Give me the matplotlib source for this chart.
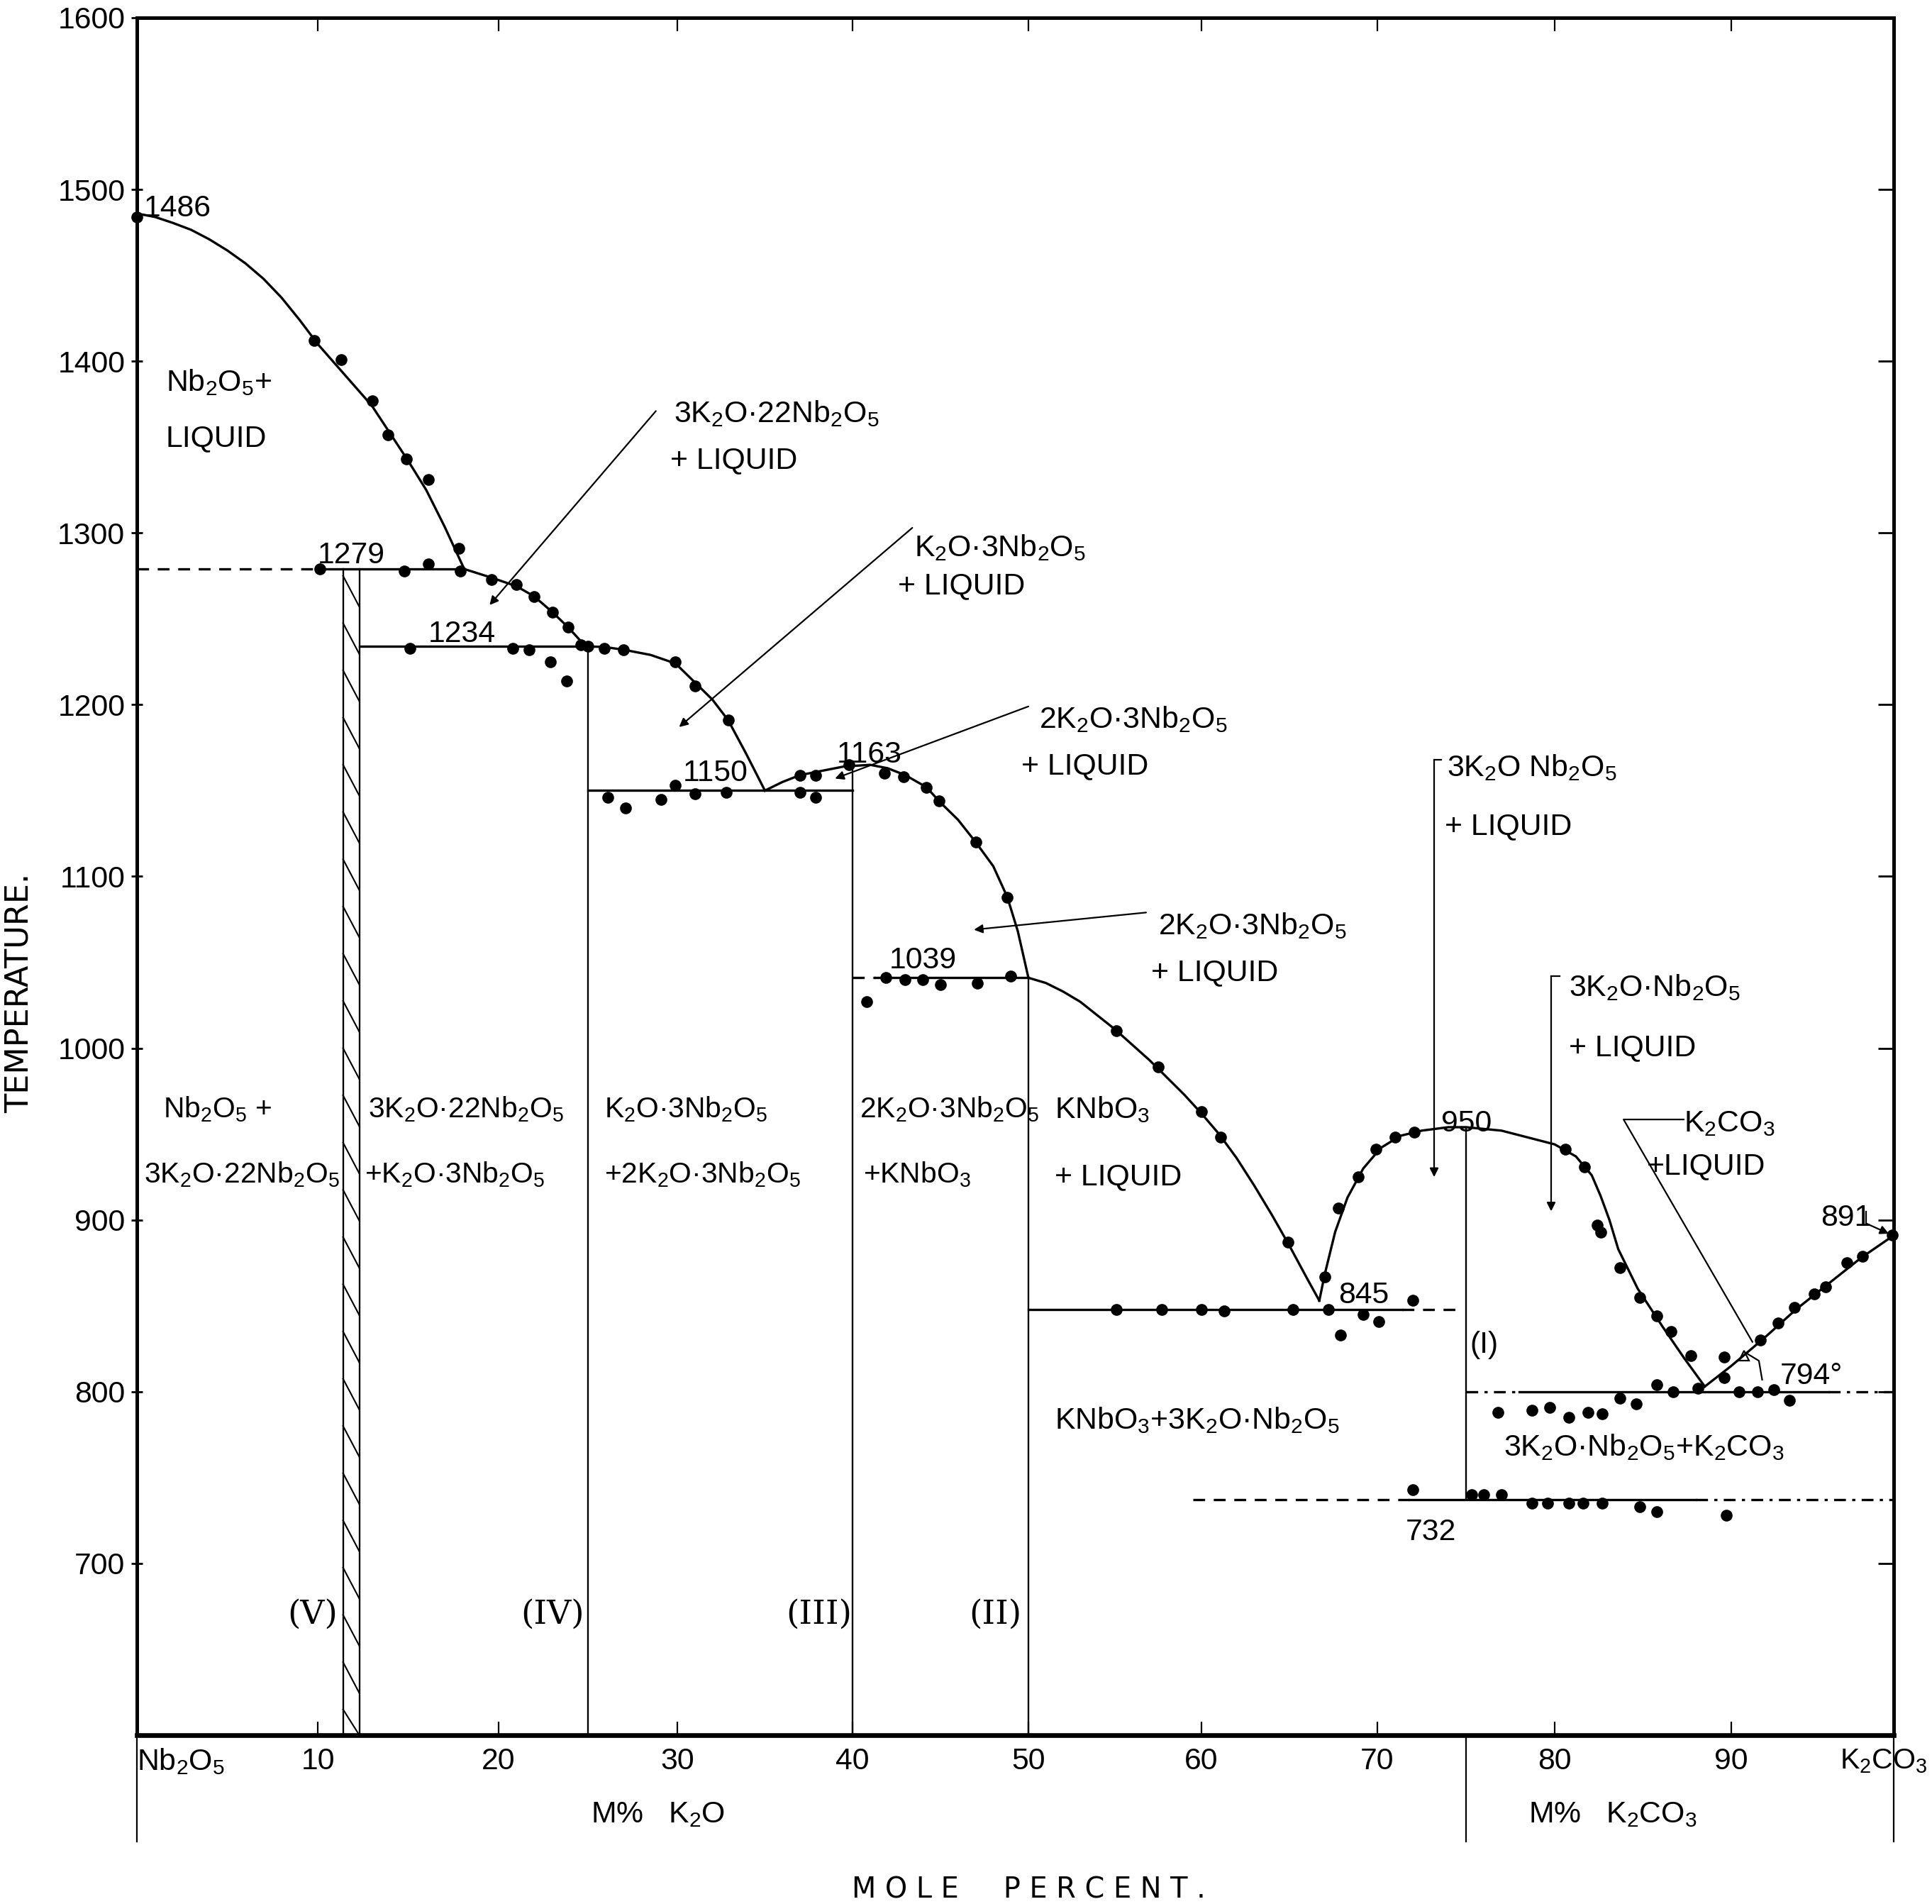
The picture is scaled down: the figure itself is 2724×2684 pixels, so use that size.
import matplotlib
matplotlib.use("Agg")
import numpy as np
import matplotlib.pyplot as plt
import matplotlib.font_manager as fm
from matplotlib.ticker import NullLocator

names = {f.name for f in fm.fontManager.ttflist}
FONT = "Liberation Sans" if "Liberation Sans" in names else "DejaVu Sans"
plt.rcParams["font.family"] = [FONT, "DejaVu Sans"]
plt.rcParams["mathtext.fontset"] = "custom"
plt.rcParams["mathtext.rm"] = FONT
plt.rcParams["mathtext.it"] = FONT
plt.rcParams["mathtext.default"] = "rm"
plt.rcParams["lines.scale_dashes"] = False

# ---------------- data (mole % K2O / K2CO3, temperature degC) ----------------
liq_nb2o5_x = [0, 1, 2, 3, 4, 5, 6, 7, 8, 9, 10, 11, 12, 13, 14, 15, 16, 17, 18.1]
liq_nb2o5_T = [1486, 1484, 1480.5, 1476.5, 1471, 1464.5, 1457, 1448, 1437, 1424, 1410,
               1398, 1386, 1374, 1358, 1342, 1325, 1304, 1279]
liq_3_22_x = [18.1, 19.6, 21.0, 22.0, 23.0, 23.9, 24.6, 25.0]
liq_3_22_T = [1279, 1274, 1269, 1263, 1254, 1245, 1237, 1234]
liq_1_3_x = [25.0, 26.0, 27.0, 28.5, 29.9, 31.0, 32.0, 32.9, 33.9, 35.0]
liq_1_3_T = [1234, 1233.5, 1232, 1229, 1224, 1213, 1203, 1191, 1172, 1150]
liq_2_3_x = [35.0, 36.0, 37.0, 38.0, 39.5, 41.0, 42.0, 43.0, 44.2, 45.0, 46.0, 47.0, 48.0, 48.8, 49.4, 50.0]
liq_2_3_T = [1150, 1155, 1159, 1161, 1164, 1165, 1163, 1159, 1152, 1143, 1133, 1120, 1106, 1088, 1068, 1041]
liq_knbo3_x = [50.0, 51, 52, 53, 54, 55, 56, 57, 58, 59, 60, 61, 62, 63, 64, 65, 66, 66.7]
liq_knbo3_T = [1041, 1038, 1033, 1027, 1019, 1011, 1002, 993, 983, 973, 962, 950, 936, 920, 903, 885, 866, 853]
liq_3_1_x = [66.7, 67.0, 67.6, 68.3, 69.2, 70.2, 71.3, 72.5, 74.0, 75.0, 77.0, 78.5, 80.0,
             81.2, 82.1, 82.6, 83.1, 83.6, 84.7, 86.1, 87.3, 88.5]
liq_3_1_T = [853, 868, 893, 913, 930, 942, 949, 952, 954, 954, 952, 948, 944,
             937, 926, 914, 900, 883, 860, 838, 820, 803]
liq_k2co3_x = [88.5, 90.0, 92.0, 94.0, 96.0, 98.0, 100.0]
liq_k2co3_T = [803, 815, 831, 848, 863, 878, 891]

# invariant (horizontal) lines: temperature, x start, x end, style
inv_T = [1279, 1279, 1234, 1150, 1041, 1041, 848, 848, 800, 800, 800, 737, 737, 737]
inv_x0 = [0, 10.1, 12.3, 25, 40, 41.3, 50, 71.4, 75, 78, 96, 59.5, 71.8, 88]
inv_x1 = [10.1, 18.1, 25, 40, 41.3, 50, 71.4, 74.5, 78, 96, 100, 71.8, 88, 100]
inv_style = ["dash", "solid", "solid", "solid", "dash", "solid", "solid", "dash",
             "dashdot", "solid", "dashdot", "dash", "solid", "dashdot"]

# compound (vertical) lines: x, top temperature, bottom temperature
comp_x = [25, 40, 50, 75]
comp_top = [1234, 1165, 1041, 954]
comp_bot = [600, 600, 600, 737]
band_x0, band_x1, band_top = 11.4, 12.3, 1279

# experimental points
dots_x = [0, 9.8, 11.3, 13.0, 13.9, 14.9, 16.1, 17.8,
          10.1, 14.8, 16.1, 17.9,
          19.6, 21.0, 22.0, 23.0, 23.9, 24.6,
          15.1, 20.8, 21.7, 25.0, 25.9, 27.0, 22.9, 23.8,
          29.9, 31.0, 32.9,
          26.1, 27.1, 29.1, 29.9, 31.0, 32.8, 37.0, 37.9,
          37.0, 37.9, 39.8, 41.8, 42.9, 44.2, 44.9, 47.0, 48.8,
          40.8, 41.9, 43.0, 44.0, 45.0, 47.1, 49.0,
          55.1, 57.5, 60.0, 61.1, 64.9,
          55.1, 57.7, 60.0, 61.3, 65.2, 67.2, 67.9, 69.2, 70.1, 72.0,
          67.0, 67.8, 68.9, 69.9, 71.0, 72.1, 80.6, 81.7, 82.4, 82.6, 83.7, 84.8, 85.8, 86.6, 87.7,
          85.8, 86.7, 88.1, 89.6, 90.5, 91.6, 92.6, 93.6,
          76.8, 78.7, 79.7, 80.8, 81.9, 82.7, 83.7, 84.6,
          89.6, 91.8, 92.9, 93.9, 95.1, 95.8, 97.1, 98.1, 99.9,
          72.0, 75.3, 76.0, 77.0, 78.7, 79.6, 80.8, 81.6, 82.7, 84.8, 85.8, 89.7]
dots_T = [1484, 1412, 1401, 1377, 1357, 1343, 1331, 1291,
          1279, 1278, 1282, 1278,
          1273, 1270, 1263, 1254, 1245, 1235,
          1233, 1233, 1232, 1234, 1233, 1232, 1225, 1214,
          1225, 1211, 1191,
          1146, 1140, 1145, 1153, 1148, 1149, 1149, 1146,
          1159, 1159, 1165, 1160, 1158, 1152, 1144, 1120, 1088,
          1027, 1041, 1040, 1040, 1037, 1038, 1042,
          1010, 989, 963, 948, 887,
          848, 848, 848, 847, 848, 848, 833, 845, 841, 853,
          867, 907, 925, 941, 948, 951, 941, 931, 897, 893, 872, 855, 844, 835, 821,
          804, 800, 802, 808, 800, 800, 801, 795,
          788, 789, 791, 785, 788, 787, 796, 793,
          820, 830, 840, 849, 857, 861, 875, 879, 891,
          743, 740, 740, 740, 735, 735, 735, 735, 735, 733, 730, 728]

x_ticks = [0, 10, 20, 30, 40, 50, 60, 70, 80, 90, 100]
x_labels = ["Nb$_2$O$_5$", "10", "20", "30", "40", "50", "60", "70", "80", "90", ""]
x_end_label = "K$_2$CO$_3$"
# drafted position of each x tick on the original sheet (the printed scale is uneven)
x_tick_draft = [0, 255, 510, 762, 1009, 1257, 1501, 1749, 1999, 2248, 2477]
y_ticks = [700, 800, 900, 1000, 1100, 1200, 1300, 1400, 1500, 1600]

# labels: x, temperature (centre of capitals), text
labels = [
    (0.4, 1491, "1486"), (1.6, 1389, "Nb$_2$O$_5$+"), (1.6, 1357, "LIQUID"),
    (29.8, 1371, "3K$_2$O·22Nb$_2$O$_5$"), (29.6, 1344, "+ LIQUID"),
    (10.0, 1289, "1279"), (16.1, 1243, "1234"),
    (43.5, 1293, "K$_2$O·3Nb$_2$O$_5$"), (42.6, 1271, "+ LIQUID"),
    (30.3, 1162, "1150"), (39.1, 1173, "1163"),
    (50.6, 1193, "2K$_2$O·3Nb$_2$O$_5$"), (49.6, 1166, "+ LIQUID"),
    (42.1, 1053, "1039"),
    (57.5, 1073, "2K$_2$O·3Nb$_2$O$_5$"), (57.1, 1046, "+ LIQUID"),
    (73.9, 1165, "3K$_2$O Nb$_2$O$_5$"), (73.8, 1131, "+ LIQUID"),
    (80.8, 1037, "3K$_2$O·Nb$_2$O$_5$"), (80.8, 1002, "+ LIQUID"),
    (51.5, 966, "KNbO$_3$"), (51.5, 927, "+ LIQUID"),
    (73.6, 958, "950"), (87.3, 958, "K$_2$CO$_3$"), (85.2, 933, "+LIQUID"),
    (95.5, 903, "891"), (67.8, 858, "845"), (75.2, 829, "(I)"), (93.0, 811, "794°"),
    (51.5, 785, "KNbO$_3$+3K$_2$O·Nb$_2$O$_5$"),
    (77.1, 769, "3K$_2$O·Nb$_2$O$_5$+K$_2$CO$_3$"),
    (71.6, 720, "732"),
]
region_labels = [
    (1.45, 966, "Nb$_2$O$_5$ +"), (0.4, 928, "3K$_2$O·22Nb$_2$O$_5$"),
    (12.8, 966, "3K$_2$O·22Nb$_2$O$_5$"), (12.6, 928, "+K$_2$O·3Nb$_2$O$_5$"),
    (25.9, 966, "K$_2$O·3Nb$_2$O$_5$"), (25.9, 928, "+2K$_2$O·3Nb$_2$O$_5$"),
    (40.4, 966, "2K$_2$O·3Nb$_2$O$_5$"), (40.6, 928, "+KNbO$_3$"),
]
roman_x = [9.7, 23.0, 38.1, 48.1]
roman_T = [670, 670, 670, 670]
roman_txt = ["(V)", "(IV)", "(III)", "(II)"]

# arrows: tail -> tip
arrows = [((28.8, 1371), (19.5, 1258)), ((43.4, 1303), (30.1, 1187)),
          ((50.0, 1199), (39.0, 1157)), ((56.8, 1079), (46.9, 1069)),
          ((73.2, 1168), (73.2, 925)), ((79.8, 1042), (79.8, 905)),
          ((98.3, 898), (99.7, 892))]

# ---------------- figure ----------------
W, H = 2724, 2684
fig = plt.figure(figsize=(W / 400, H / 400), dpi=400)
ax = fig.add_axes([193 / W, 1 - 2446 / H, 2477 / W, 2421 / H])

xt = np.array(x_ticks, float)
xd = np.array(x_tick_draft, float)


def fwd(x):
    x = np.asarray(x, float)
    y = np.interp(x, xt, xd)
    y = np.where(x < xt[0], xd[0] + (x - xt[0]) * (xd[1] - xd[0]) / 10, y)
    y = np.where(x > xt[-1], xd[-1] + (x - xt[-1]) * (xd[-1] - xd[-2]) / 10, y)
    return y


def inv(p):
    p = np.asarray(p, float)
    x = np.interp(p, xd, xt)
    x = np.where(p < xd[0], xt[0] + (p - xd[0]) * 10 / (xd[1] - xd[0]), x)
    x = np.where(p > xd[-1], xt[-1] + (p - xd[-1]) * 10 / (xd[-1] - xd[-2]), x)
    return x


ax.set_xscale("function", functions=(fwd, inv))
ax.set_xlim(0, 100)
ax.set_ylim(600, 1600)

LW = 0.6
for xs, ts in [(liq_nb2o5_x, liq_nb2o5_T), (liq_3_22_x, liq_3_22_T), (liq_1_3_x, liq_1_3_T),
               (liq_2_3_x, liq_2_3_T), (liq_knbo3_x, liq_knbo3_T), (liq_3_1_x, liq_3_1_T),
               (liq_k2co3_x, liq_k2co3_T)]:
    ax.plot(xs, ts, color="k", lw=LW, solid_joinstyle="round")

styles = {"solid": "-", "dash": (0, (3.0, 2.2)), "dashdot": (0, (3.0, 1.6, 0.8, 1.6))}
for T, x0, x1, st in zip(inv_T, inv_x0, inv_x1, inv_style):
    ax.plot([x0, x1], [T, T], color="k", lw=LW, linestyle=styles[st])

for xc, t0, t1 in zip(comp_x, comp_top, comp_bot):
    ax.plot([xc, xc], [t0, t1], color="k", lw=0.42)

# hatched band of the 3K2O.22Nb2O5 phase
ax.plot([band_x0, band_x0], [band_top, 600], color="k", lw=0.42)
ax.plot([band_x1, band_x1], [band_top, 600], color="k", lw=0.42)
for t_start in np.arange(band_top - 4, 610, -27.5):
    ax.plot([band_x0, band_x1], [t_start, max(t_start - 18, 600)], color="k", lw=0.38)

ax.plot(dots_x, dots_T, "o", color="k", ms=3.0, mew=0, clip_on=False, zorder=5)

# leader lines
ax.plot([87.3, 83.9, 91.3], [958.5, 958.5, 829], color="k", lw=0.4)
ax.plot([91.9, 91.7, 91.0], [807, 818, 822], color="k", lw=0.4)
ax.plot([90.8], [821], marker="^", ms=2.6, mfc="none", mec="k", mew=0.4)
ax.plot([73.2, 73.6], [1168, 1168], color="k", lw=0.4)
ax.plot([79.8, 80.3], [1042, 1042], color="k", lw=0.4)
ax.plot([98.3, 98.3], [905, 898], color="k", lw=0.4)
for tail, tip in arrows:
    ax.annotate("", xy=tip, xytext=tail,
                arrowprops=dict(arrowstyle="-|>", lw=0.4, color="k",
                                mutation_scale=4.5, shrinkA=0, shrinkB=0))

FS = 7.7
for x, t, s in labels:
    ax.text(x, t - 6.5, s, fontsize=FS, ha="left", va="baseline", color="k")
for x, t, s in region_labels:
    ax.text(x, t - 6.5, s, fontsize=7.35, ha="left", va="baseline", color="k")
for x, t, s in zip(roman_x, roman_T, roman_txt):
    ax.text(x, t, s, fontsize=8.5, ha="center", va="center",
            family=["DejaVu Serif"], color="k")

# axis furniture
for side in ["left", "right", "top"]:
    ax.spines[side].set_linewidth(0.9)
ax.spines["bottom"].set_linewidth(1.2)
ax.set_xticks(x_ticks)
ax.set_xticklabels(x_labels, fontsize=FS)
ax.xaxis.set_minor_locator(NullLocator())
ax.get_xticklabels()[0].set_horizontalalignment("left")
ax.set_yticks(y_ticks)
ax.set_yticklabels([str(v) for v in y_ticks], fontsize=FS)
ax.tick_params(axis="x", direction="in", length=3.5, width=0.4, top=True, pad=3)
ax.tick_params(axis="y", direction="inout", length=3.0, width=0.5, pad=1.5)
axr = ax.twinx()
axr.set_ylim(600, 1600)
axr.set_yticks(y_ticks[:-1])
axr.tick_params(axis="y", direction="in", length=4, width=0.5, labelright=False)
for sp in axr.spines.values():
    sp.set_visible(False)
fig.text(2717 / W, 1 - 2463 / H, x_end_label, fontsize=7.4, ha="right", va="top")

# lines and titles below the axis
for xc in [0, 75, 100]:
    ax.plot([xc, xc], [600, 538], color="k", lw=0.4, clip_on=False)
ax.text(28.9, 549, "M%   K$_2$O", fontsize=FS, ha="center", va="baseline")
ax.text(83.3, 549, "M%   K$_2$CO$_3$", fontsize=FS, ha="center", va="baseline")
ax.text(50.0, 505, "M O L E     P E R C E N T .", fontsize=7.2, ha="center",
        va="baseline", family=["DejaVu Sans"])
fig.text(27 / W, 1 - 1400 / H, "TEMPERATURE.", fontsize=8.0, rotation=90, ha="center",
         va="center", family=["DejaVu Sans"])

fig.savefig("out.png", dpi=400, facecolor="white")
